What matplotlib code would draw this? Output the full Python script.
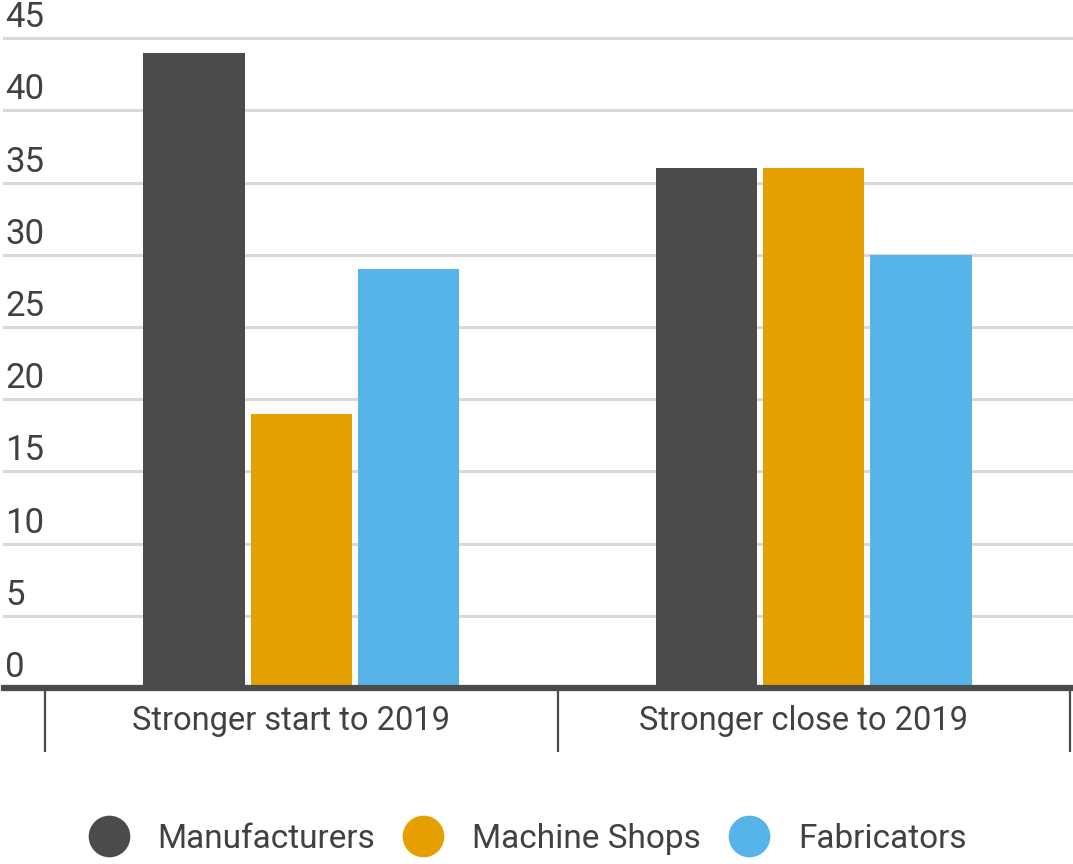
import matplotlib
matplotlib.use("Agg")
import matplotlib.pyplot as plt
from matplotlib.lines import Line2D
from matplotlib import transforms

plt.rcParams['font.family'] = ['Roboto', 'DejaVu Sans']

categories = ["Stronger start to 2019", "Stronger close to 2019"]
series_names = ["Manufacturers", "Machine Shops", "Fabricators"]
manufacturers = [44, 36]
machine_shops = [19, 36]
fabricators = [29, 30]
series_values = [manufacturers, machine_shops, fabricators]
colors = ["#4b4b4b", "#e5a000", "#56b4e9"]
yticks = [0, 5, 10, 15, 20, 25, 30, 35, 40, 45]
text_color = "#414141"

W, H = 1073, 864
fig = plt.figure(figsize=(W / 100, H / 100), dpi=100)
px_per_unit = 14.44
ymax = 46
ax_left_px, ax_right_px = 4, 1073
base_px = 688
ax_h_px = px_per_unit * ymax
ax = fig.add_axes([ax_left_px / W, (H - base_px) / H,
                   (ax_right_px - ax_left_px) / W, ax_h_px / H])

cat_w = 512.5
xl = -0.5 - (45 - ax_left_px) / cat_w
xr = 1.5 + (ax_right_px - 1070) / cat_w
ax.set_xlim(xl, xr)
ax.set_ylim(0, ymax)

bar_w = 0.198
step = 0.209
x = list(range(len(categories)))
for i, (vals, c) in enumerate(zip(series_values, colors)):
    ax.bar([xi + (i - 1) * step for xi in x], vals, width=bar_w, color=c,
           zorder=3, linewidth=0)

for v in yticks[1:]:
    ax.axhline(v, color="#d9d9d9", lw=2.2, zorder=1, clip_on=False)
ax.axhline(0, color="#4b4b4b", lw=4.5, zorder=4, clip_on=False)

for s in ax.spines.values():
    s.set_visible(False)
ax.set_yticks([])

off = transforms.offset_copy(ax.transData, fig=fig, x=1, y=11, units='dots')
for v in yticks:
    ax.text(xl, v, str(v), transform=off, ha='left', va='baseline',
            fontsize=25, color=text_color, zorder=5)

ax.set_xticks(x)
ax.set_xticklabels(categories, fontsize=23.5, color=text_color)
ax.tick_params(axis='x', which='major', length=0, pad=12)
shift = transforms.ScaledTranslation(-10 / 100, 0, fig.dpi_scale_trans)
for lbl in ax.get_xticklabels():
    lbl.set_transform(lbl.get_transform() + shift)
ax.set_xticks([-0.5, 0.5, 1.5], minor=True)
ax.tick_params(axis='x', which='minor', length=46, width=1.6, color="#4b4b4b",
               direction='out')

handles = [Line2D([], [], marker='o', ls='none', markersize=30,
                  markerfacecolor=c, markeredgewidth=0) for c in colors]
leg = fig.legend(handles, series_names, loc='center', bbox_to_anchor=(527 / W, (H - 839) / H),
                 ncol=3, frameon=False, fontsize=24, handletextpad=0.84,
                 columnspacing=0.81, handlelength=1.26, borderaxespad=0, borderpad=0)
for t in leg.get_texts():
    t.set_color(text_color)

fig.savefig("out.png", dpi=100)
